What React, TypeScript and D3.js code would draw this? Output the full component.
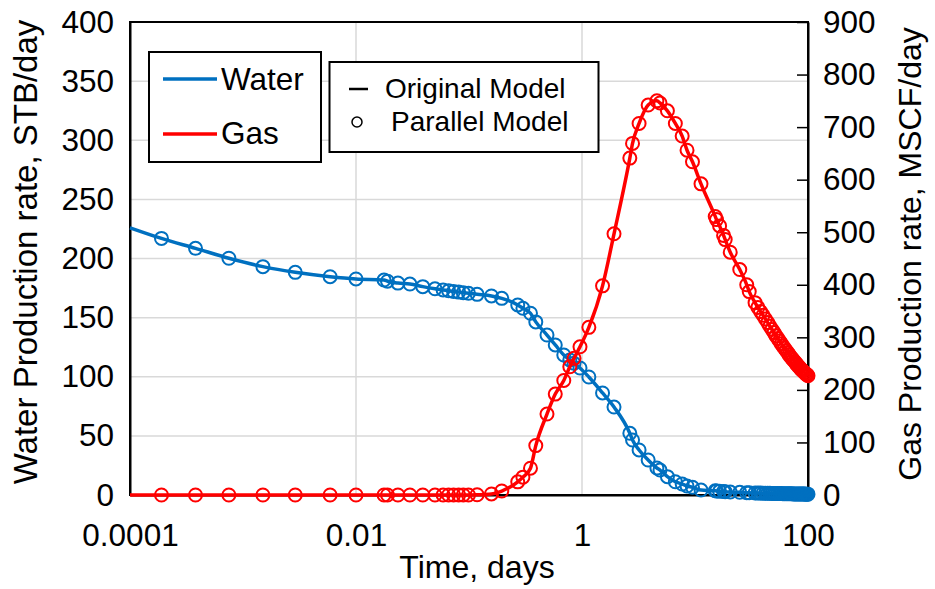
import React, { useEffect, useRef } from 'react';
import * as d3 from 'd3';

// Time, days (sample times of the Parallel Model markers)
const times = [
  0.00019, 0.00038, 0.00075, 0.0015, 0.0029, 0.0059, 0.01, 0.0177, 0.019, 0.0235,
  0.03, 0.039, 0.05, 0.059, 0.066, 0.073, 0.081, 0.089, 0.099, 0.118,
  0.158, 0.195, 0.27, 0.3, 0.35, 0.39, 0.49, 0.58, 0.69, 0.78,
  0.85, 0.96, 1.15, 1.52, 1.92, 2.65, 2.8, 3.2, 3.85, 4.6,
  4.9, 5.7, 6.7, 7.7, 8.5, 9.5, 11.3, 15.1, 15.5, 16.5,
  17.9, 18.5, 20.5, 24.9, 28.7, 30.2, 34,
  36, 38, 40, 42, 44, 46, 48, 50, 52, 54, 56, 58, 60, 62, 64, 66, 68, 70,
  72, 74, 76, 78, 80, 82, 84, 86, 88, 90, 92, 94, 96, 98, 100,
];

// Water production rate, STB/day (left axis)
const waterRates = [
  217, 208.6, 200.2, 193.1, 188.3, 184.6, 182.7, 181.8, 180.8, 179.2,
  178.4, 176.2, 174.4, 173.4, 172.7, 172.1, 171.6, 171.1, 170.6, 169.7,
  168.3, 166.3, 160.7, 157.9, 153.7, 146.4, 135.3, 126.9, 118.4, 114.2,
  111.4, 107.4, 99.8, 86.3, 74.4, 52.2, 46.5, 38.1, 29.6, 22.8,
  21.1, 15.5, 11.2, 9.3, 7.6, 6.5, 4.2, 3.6, 3.4, 3.1,
  3.0, 2.8, 2.5, 2.3, 2.0, 1.9, 1.7,
  1.6, 1.6, 1.5, 1.5, 1.4, 1.4, 1.3, 1.3, 1.3, 1.2, 1.2, 1.2, 1.1, 1.1, 1.1, 1.0, 1.0, 1.0,
  1.0, 0.9, 0.9, 0.9, 0.9, 0.9, 0.8, 0.8, 0.8, 0.8, 0.8, 0.8, 0.7, 0.7, 0.7,
];

// Gas production rate, MSCF/day (right axis)
const gasRates = [
  0, 0, 0, 0, 0, 0, 0, 0, 0, 0,
  0, 0, 0, 0, 0, 0, 0, 0, 0, 0.5,
  2, 7.6, 25, 34, 51, 94, 154, 192, 218, 244,
  260, 282, 319, 398, 497, 641, 669, 707, 742, 750,
  746, 731, 707, 683, 656, 634, 592, 530, 524, 512,
  494, 486, 462, 429, 400, 387, 366,
  357, 349, 342, 335, 328, 321, 315, 309, 303, 298, 293, 288, 283, 279, 275, 271, 267, 263,
  260, 257, 254, 251, 248, 245, 243, 240, 238, 236, 234, 232, 230, 229, 227,
];

// Original Model line starts at the left edge of the axis
const lineStartTime = 0.0001;
const waterStart = 226;
const gasStart = 0;

const xTicks = [0.0001, 0.01, 1, 100];
const xTickLabels = ['0.0001', '0.01', '1', '100'];
const leftTicks = [0, 50, 100, 150, 200, 250, 300, 350, 400];
const rightTicks = [0, 100, 200, 300, 400, 500, 600, 700, 800, 900];

const FONT = '"Liberation Sans", Arial, sans-serif';
const BLUE = '#0070C0';
const RED = '#FF0000';

export default function App() {
  const ref = useRef<SVGSVGElement>(null);

  useEffect(() => {
    const svg = d3.select(ref.current);
    svg.selectAll('*').remove();
    const W = 935, H = 589;
    const L = 130, R = 808, T = 22, B = 495;

    const x = d3.scaleLog().domain([1e-4, 100]).range([L, R]);
    const yL = d3.scaleLinear().domain([0, 400]).range([B, T]);
    const yR = d3.scaleLinear().domain([0, 900]).range([B, T]);

    svg.append('rect').attr('width', W).attr('height', H).attr('fill', '#fff');

    // grid
    const grid = svg.append('g');
    grid.selectAll('line.h').data(leftTicks).join('line')
      .attr('x1', L).attr('x2', R)
      .attr('y1', d => yL(d)).attr('y2', d => yL(d))
      .attr('stroke', '#d9d9d9').attr('stroke-width', 1.5);
    grid.selectAll('line.v').data(xTicks).join('line')
      .attr('x1', d => x(d)).attr('x2', d => x(d))
      .attr('y1', T).attr('y2', B)
      .attr('stroke', '#d9d9d9').attr('stroke-width', 1.5);

    // plot border
    svg.append('rect').attr('x', L).attr('y', T).attr('width', R - L).attr('height', B - T)
      .attr('fill', 'none').attr('stroke', '#000').attr('stroke-width', 2);

    const styleAxis = (g: any) => {
      g.selectAll('text').attr('font-family', FONT).attr('font-size', 31.5).attr('fill', '#000');
      g.select('.domain').attr('stroke', '#000').attr('stroke-width', 2);
      g.selectAll('.tick line').attr('stroke', '#000').attr('stroke-width', 1.5);
    };

    const gl = svg.append('g').attr('transform', `translate(${L},0)`)
      .call(d3.axisLeft(yL).tickValues(leftTicks).tickSize(0).tickPadding(16).tickFormat(d3.format('d')));
    styleAxis(gl);

    const gr = svg.append('g').attr('transform', `translate(${R},0)`)
      .call(d3.axisRight(yR).tickValues(rightTicks).tickSizeInner(-11).tickSizeOuter(0).tickPadding(15).tickFormat(d3.format('d')));
    styleAxis(gr);

    const gb = svg.append('g').attr('transform', `translate(0,${B})`)
      .call(d3.axisBottom(x).tickValues(xTicks).tickSize(0).tickPadding(29)
        .tickFormat((d: any, i: number) => xTickLabels[i]));
    styleAxis(gb);

    // titles
    svg.append('text').attr('x', 477).attr('y', 578).attr('text-anchor', 'middle')
      .attr('font-family', FONT).attr('font-size', 32).text('Time, days');
    svg.append('text').attr('transform', 'translate(37,252) rotate(-90)').attr('text-anchor', 'middle')
      .attr('font-family', FONT).attr('font-size', 33).text('Water Production rate, STB/day');
    svg.append('text').attr('transform', 'translate(921,254) rotate(-90)').attr('text-anchor', 'middle')
      .attr('font-family', FONT).attr('font-size', 32).text('Gas Production rate, MSCF/day');

    const lineTimes = [lineStartTime, ...times];
    const waterLine = [waterStart, ...waterRates];
    const gasLine = [gasStart, ...gasRates];

    const mkLine = (ys: number[], yScale: any) =>
      d3.line<number>()
        .x((_, i) => x(lineTimes[i]))
        .y((d) => yScale(d))
        .curve(d3.curveMonotoneX)(ys);

    // water
    svg.append('path').attr('d', mkLine(waterLine, yL)).attr('fill', 'none')
      .attr('stroke', BLUE).attr('stroke-width', 3.5);
    svg.append('g').selectAll('circle').data(waterRates).join('circle')
      .attr('cx', (_, i) => x(times[i])).attr('cy', d => yL(d)).attr('r', 6.5)
      .attr('fill', 'none').attr('stroke', BLUE).attr('stroke-width', 2);

    // gas
    svg.append('path').attr('d', mkLine(gasLine, yR)).attr('fill', 'none')
      .attr('stroke', RED).attr('stroke-width', 3.5);
    svg.append('g').selectAll('circle').data(gasRates).join('circle')
      .attr('cx', (_, i) => x(times[i])).attr('cy', d => yR(d)).attr('r', 6.5)
      .attr('fill', 'none').attr('stroke', RED).attr('stroke-width', 2);

    // legend 1
    const lg1 = svg.append('g');
    lg1.append('rect').attr('x', 149).attr('y', 52).attr('width', 172).attr('height', 110)
      .attr('fill', '#fff').attr('stroke', '#000').attr('stroke-width', 2);
    lg1.append('line').attr('x1', 163).attr('x2', 217).attr('y1', 79).attr('y2', 79)
      .attr('stroke', BLUE).attr('stroke-width', 3.5);
    lg1.append('line').attr('x1', 163).attr('x2', 217).attr('y1', 134).attr('y2', 134)
      .attr('stroke', RED).attr('stroke-width', 3.5);
    lg1.append('text').attr('x', 221).attr('y', 90).attr('font-family', FONT).attr('font-size', 31.5).text('Water');
    lg1.append('text').attr('x', 221).attr('y', 144).attr('font-family', FONT).attr('font-size', 31.5).text('Gas');

    // legend 2
    const lg2 = svg.append('g');
    lg2.append('rect').attr('x', 329.5).attr('y', 62).attr('width', 269).attr('height', 90)
      .attr('fill', '#fff').attr('stroke', '#000').attr('stroke-width', 2);
    lg2.append('line').attr('x1', 349).attr('x2', 368).attr('y1', 89).attr('y2', 89)
      .attr('stroke', '#000').attr('stroke-width', 2.5);
    lg2.append('circle').attr('cx', 357).attr('cy', 122).attr('r', 5)
      .attr('fill', 'none').attr('stroke', '#000').attr('stroke-width', 1.5);
    lg2.append('text').attr('x', 385).attr('y', 97.5).attr('font-family', FONT).attr('font-size', 28).text('Original Model');
    lg2.append('text').attr('x', 391).attr('y', 131).attr('font-family', FONT).attr('font-size', 28).text('Parallel Model');
  }, []);

  return (
    <svg ref={ref} width={935} height={589}
      style={{ position: 'absolute', left: 0, top: 0, display: 'block' }} />
  );
}
